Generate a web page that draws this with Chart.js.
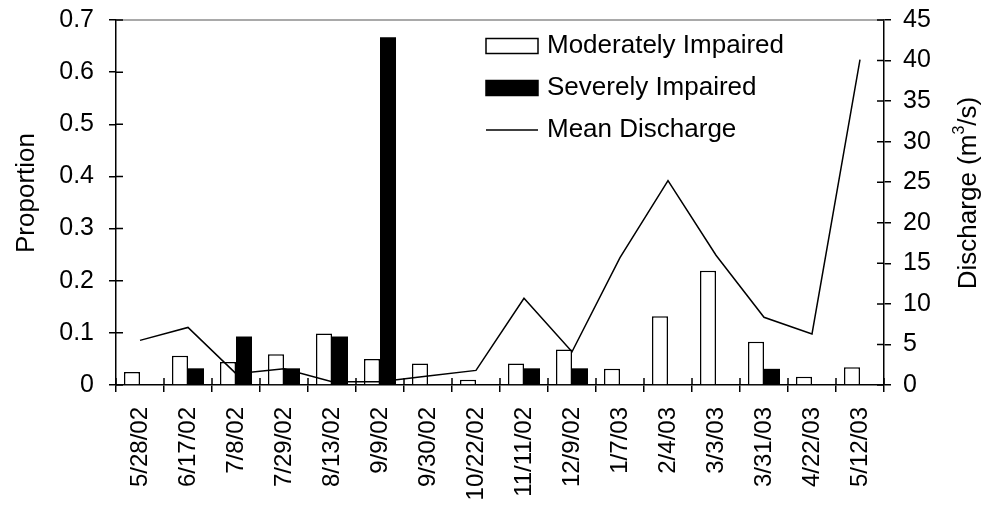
<!DOCTYPE html>
<html>
<head>
<meta charset="utf-8">
<script src="https://cdn.jsdelivr.net/npm/chart.js@4/dist/chart.umd.min.js"></script>
<style>
  html, body { margin: 0; padding: 0; background: #fff; }
  #wrap { width: 984px; height: 508px; }
</style>
</head>
<body>
<div id="wrap"><canvas id="myChart" width="984" height="508"></canvas></div>
<script>
const dates = [
  "5/28/02", "6/17/02", "7/8/02", "7/29/02", "8/13/02", "9/9/02",
  "9/30/02", "10/22/02", "11/11/02", "12/9/02", "1/7/03", "2/4/03",
  "3/3/03", "3/31/03", "4/22/03", "5/12/03"
];

const moderate = [0.025, 0.056, 0.044, 0.059, 0.099, 0.05, 0.041, 0.01,
                  0.041, 0.068, 0.031, 0.132, 0.219, 0.083, 0.016, 0.034];

const severe = [null, 0.032, 0.093, 0.032, 0.093, 0.667, null, null,
                0.032, 0.032, null, null, null, 0.031, null, null];

const discharge = [5.5, 7.1, 1.4, 2.0, 0.4, 0.4, 1.1, 1.8,
                   10.7, 4.1, 15.7, 25.2, 16.0, 8.35, 6.3, 40.1];

const FONT = "'Liberation Sans', Arial, sans-serif";

// ticks that poke into the plot, legend box, titles and the grey top line
const extras = {
  id: "extras",
  afterDraw(chart) {
    const ctx = chart.ctx;
    const a = chart.chartArea;
    const t = 7;
    ctx.save();
    ctx.lineWidth = 1.5;

    // grey top edge
    ctx.beginPath();
    ctx.strokeStyle = "#8c8c8c";
    ctx.moveTo(a.left, a.top);
    ctx.lineTo(a.right, a.top);
    ctx.stroke();
    ctx.strokeStyle = "#000";

    const y = chart.scales.y, y1 = chart.scales.y1, x = chart.scales.x;
    ctx.beginPath();
    y.ticks.forEach(tk => {
      const p = y.getPixelForValue(tk.value);
      ctx.moveTo(a.left, p); ctx.lineTo(a.left + t, p);
    });
    y1.ticks.forEach(tk => {
      const p = y1.getPixelForValue(tk.value);
      ctx.moveTo(a.right, p); ctx.lineTo(a.right - t, p);
    });
    const half = (x.getPixelForValue(1) - x.getPixelForValue(0)) / 2;
    for (let i = 0; i <= dates.length; i++) {
      const p = i < dates.length ? x.getPixelForValue(i) - half : x.getPixelForValue(i - 1) + half;
      ctx.moveTo(p, a.bottom); ctx.lineTo(p, a.bottom - t);
    }
    ctx.stroke();

    // legend
    ctx.font = "26px " + FONT;
    ctx.textBaseline = "middle";
    ctx.fillStyle = "#000";
    const lx = 486, lw = 52, rows = [46, 88, 130];
    chart.data.datasets.forEach((ds, i) => {
      const cy = rows[i];
      if (ds.type === "line") {
        ctx.beginPath();
        ctx.lineWidth = 1.5;
        ctx.moveTo(lx, cy); ctx.lineTo(lx + lw, cy);
        ctx.stroke();
      } else {
        ctx.fillStyle = ds.backgroundColor;
        ctx.fillRect(lx, cy - 7.5, lw, 15);
        ctx.lineWidth = 1.5;
        ctx.strokeRect(lx, cy - 7.5, lw, 15);
        ctx.fillStyle = "#000";
      }
      ctx.fillText(ds.label, 547, cy);
    });

    // axis titles
    ctx.font = "26px " + FONT;
    ctx.textAlign = "center";
    ctx.save();
    ctx.translate(27, 193);
    ctx.rotate(-Math.PI / 2);
    ctx.fillText("Proportion", 0, 0);
    ctx.restore();

    ctx.save();
    ctx.translate(969, 193);
    ctx.rotate(-Math.PI / 2);
    ctx.textAlign = "left";
    const p1 = "Discharge (m", p2 = "3", p3 = "/s)";
    ctx.font = "26px " + FONT;
    const w1 = ctx.measureText(p1).width, w3 = ctx.measureText(p3).width;
    ctx.font = "16px " + FONT;
    const w2 = ctx.measureText(p2).width;
    const sx = -(w1 + w2 + w3) / 2;
    ctx.font = "26px " + FONT;
    ctx.fillText(p1, sx, 0);
    ctx.font = "16px " + FONT;
    ctx.fillText(p2, sx + w1, -9);
    ctx.font = "26px " + FONT;
    ctx.fillText(p3, sx + w1 + w2, 0);
    ctx.restore();

    ctx.restore();
  }
};

const data = {
  labels: dates,
  datasets: [
    {
      type: "bar",
      label: "Moderately Impaired",
      data: moderate,
      backgroundColor: "#ffffff",
      borderColor: "#000000",
      borderWidth: 1.5,
      yAxisID: "y",
      order: 2
    },
    {
      type: "bar",
      label: "Severely Impaired",
      data: severe,
      backgroundColor: "#000000",
      borderColor: "#000000",
      borderWidth: 0,
      yAxisID: "y",
      order: 2
    },
    {
      type: "line",
      label: "Mean Discharge",
      data: discharge,
      borderColor: "#000000",
      borderWidth: 1.5,
      pointRadius: 0,
      tension: 0,
      yAxisID: "y1",
      order: 1
    }
  ]
};

// fixed axis sizes so the plot area lands where the original has it
function fixVertical(w) {
  return s => { s.width = w; s.paddingTop = 0; s.paddingBottom = 0; };
}

const config = {
  type: "bar",
  data: data,
  plugins: [extras],
  options: {
    responsive: false,
    animation: false,
    events: [],
    layout: { padding: { top: 20, left: 0, right: 0, bottom: 0 } },
    datasets: {
      bar: { categoryPercentage: 0.667, barPercentage: 1.0 }
    },
    plugins: {
      legend: { display: false },
      tooltip: { enabled: false },
      title: { display: false }
    },
    scales: {
      x: {
        offset: true,
        grid: { display: true, drawOnChartArea: false, tickLength: 7, color: "#000", lineWidth: 1.5 },
        border: { color: "#000", width: 1.5 },
        ticks: {
          color: "#000",
          font: { family: FONT, size: 24 },
          minRotation: 90,
          maxRotation: 90,
          autoSkip: false,
          padding: 15
        },
        afterFit(s) { s.height = 123; s.paddingLeft = 0; s.paddingRight = 0; }
      },
      y: {
        position: "left",
        min: 0,
        max: 0.7,
        grid: { display: true, drawOnChartArea: false, tickLength: 7, color: "#000", lineWidth: 1.5 },
        border: { color: "#000", width: 1.5 },
        ticks: {
          stepSize: 0.1,
          color: "#000",
          font: { family: FONT, size: 25 },
          padding: 15
        },
        afterFit: fixVertical(116)
      },
      y1: {
        position: "right",
        min: 0,
        max: 45,
        grid: { display: true, drawOnChartArea: false, tickLength: 7, color: "#000", lineWidth: 1.5 },
        border: { color: "#000", width: 1.5 },
        ticks: {
          stepSize: 5,
          color: "#000",
          font: { family: FONT, size: 25 },
          padding: 12
        },
        afterFit: fixVertical(100)
      }
    }
  }
};

const ctx = document.getElementById("myChart").getContext("2d");
new Chart(ctx, config);
</script>
</body>
</html>
